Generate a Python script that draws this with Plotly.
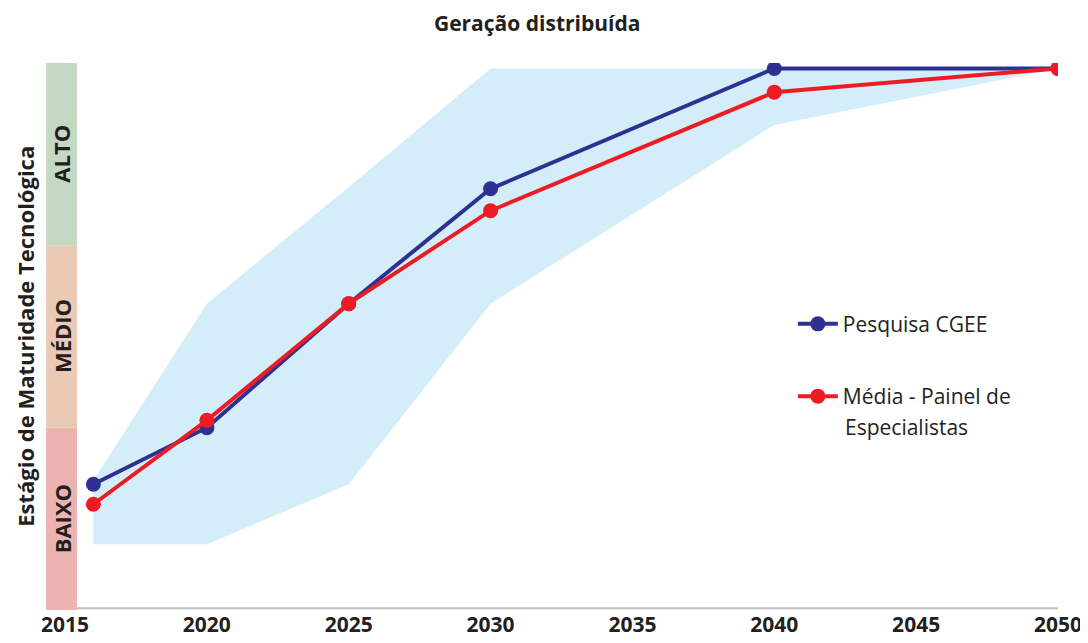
import plotly.graph_objects as go

# data (stage: 0 = bottom of BAIXO, 3 = top of ALTO)
years_cgee = [2016, 2020, 2025, 2030, 2040, 2050]
cgee = [0.69, 1.0, 1.68, 2.31, 2.97, 2.97]

years_painel = [2016, 2020, 2025, 2030, 2040, 2050]
painel = [0.58, 1.04, 1.68, 2.19, 2.84, 2.97]

years_band = [2016, 2020, 2025, 2030, 2040, 2050]
band_upper = [0.71, 1.68, 2.32, 2.97, 2.97, 2.97]
band_lower = [0.36, 0.36, 0.69, 1.68, 2.66, 2.97]

stages = ["BAIXO", "MÉDIO", "ALTO"]
stage_colors = ["#ecb3b1", "#ebcab5", "#c5d8c4"]
tick_years = [2015, 2020, 2025, 2030, 2035, 2040, 2045, 2050]

BLUE = "#2e3192"
RED = "#ed1c24"
FONT = "Open Sans"
DARK = "#231f20"

fig = go.Figure()

# expert range band
fig.add_trace(go.Scatter(x=years_band, y=band_lower, mode="lines",
                         line=dict(width=0), showlegend=False, hoverinfo="skip"))
fig.add_trace(go.Scatter(x=years_band, y=band_upper, mode="lines",
                         line=dict(width=0), fill="tonexty",
                         fillcolor="#d4eef9", showlegend=False, hoverinfo="skip"))

fig.add_trace(go.Scatter(x=years_cgee, y=cgee, mode="lines+markers",
                         name="Pesquisa CGEE", legendgroup="a",
                         line=dict(color=BLUE, width=4),
                         marker=dict(size=15, color=BLUE)))
fig.add_trace(go.Scatter(x=years_painel, y=painel, mode="lines+markers",
                         name="Média - Painel de", legendgroup="b",
                         line=dict(color=RED, width=4),
                         marker=dict(size=15, color=RED)))
# second line of the red legend entry
fig.add_annotation(xref="paper", yref="paper", x=0.7835, y=0.334,
                   xanchor="left", yanchor="middle", showarrow=False,
                   text="Especialistas", font=dict(family=FONT, size=21, color=DARK))

# maturity stage bars on the left
for i, (label, col) in enumerate(zip(stages, stage_colors)):
    fig.add_shape(type="rect", xref="paper", yref="y",
                  x0=-0.019, x1=0.012, y0=i, y1=i + 1,
                  fillcolor=col, line=dict(width=0), layer="above")
    fig.add_annotation(xref="paper", yref="y", x=-0.0035, y=i + 0.5,
                       xanchor="center", yanchor="middle",
                       text=f"<b>{label}</b>", textangle=-90, showarrow=False,
                       font=dict(family=FONT, size=22, color=DARK))

# x axis line
fig.add_shape(type="line", xref="paper", yref="y", x0=0.012, x1=1.0,
              y0=0.01, y1=0.01, line=dict(color="#bcbec0", width=2), layer="below")

fig.add_annotation(xref="paper", yref="y", x=-0.041, y=1.5,
                   xanchor="center", yanchor="middle",
                   text="<b>Estágio de Maturidade Tecnológica</b>", textangle=-90,
                   showarrow=False, font=dict(family=FONT, size=22, color=DARK))

# page body has an 8px margin, so the figure is sized and offset for it
fig.update_layout(
    width=1080, height=635,
    margin=dict(l=57, r=30, t=55, b=33),
    paper_bgcolor="white", plot_bgcolor="white",
    font=dict(family=FONT, color=DARK),
    title=dict(text="<b>Geração distribuída</b>", x=0.49, xanchor="center",
               y=0.975, yanchor="middle",
               font=dict(family=FONT, size=21, color=DARK)),
    xaxis=dict(range=[2015, 2050], tickvals=tick_years,
               ticktext=[f"<b>{t}</b>" for t in tick_years],
               showgrid=False, zeroline=False, showline=False, ticks="",
               automargin=False,
               tickfont=dict(family=FONT, size=21, color=DARK)),
    yaxis=dict(range=[0, 3], showgrid=False, zeroline=False, showline=False,
               showticklabels=False, ticks="", automargin=False),
    legend=dict(x=0.733, y=0.56, xanchor="left", yanchor="top",
                bgcolor="rgba(0,0,0,0)", tracegroupgap=42, itemwidth=40,
                font=dict(family=FONT, size=21, color=DARK)),
    showlegend=True,
)

fig.write_html("out.html")
